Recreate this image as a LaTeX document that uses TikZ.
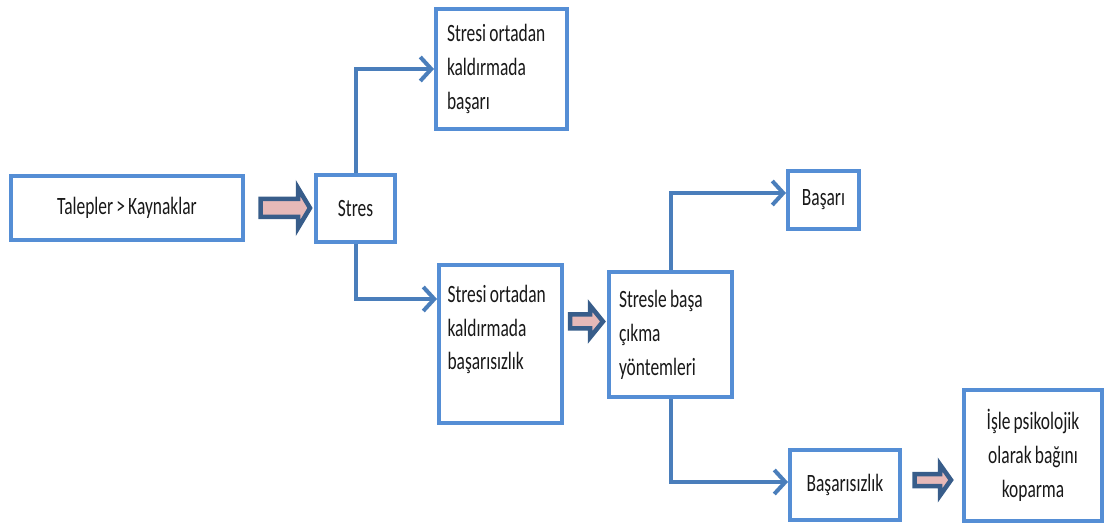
\documentclass[tikz,border=0pt]{standalone}
\usepackage{fontspec}
\setmainfont{Carlito}[FakeStretch=0.70,WordSpace=0.8]
\usetikzlibrary{arrows.meta,calc}
\definecolor{boxblue}{RGB}{85,142,213}
\definecolor{lineblue}{RGB}{74,126,187}
\definecolor{arrdark}{RGB}{56,93,138}
\definecolor{arrpink}{RGB}{230,185,184}
\newcommand\blkarrow[5]{%
  \draw[blk] let \p1=(#1), \p2=(#2) in
    (\x1,{\y1+#4}) -- ({\x2-#3},{\y1+#4}) -- ({\x2-#3},{\y1+#5}) -- (\x2,\y1)
    -- ({\x2-#3},{\y1-#5}) -- ({\x2-#3},{\y1-#4}) -- (\x1,{\y1-#4}) -- cycle;}
\begin{document}
\begin{tikzpicture}[x=1bp,y=-1bp,
  box/.style={draw=boxblue, line width=4bp, fill=white, inner sep=0pt,
    font=\fontsize{25}{34}\selectfont, text=black!90},
  conn/.style={draw=lineblue, line width=4bp, -{Straight Barb[length=11bp,width=24bp]}},
  blk/.style={draw=arrdark, fill=arrpink, line width=4.5bp, line join=miter}]
\useasboundingbox (0,0) rectangle (1109,526);

\node[box, minimum width=232bp, minimum height=64bp] (tal) at (127,208) {Talepler > Kaynaklar};
\node[box, minimum width=79bp, minimum height=67bp] (stres) at (355.5,208.5) {Stres};
\node[box, minimum width=131bp, minimum height=120bp, text width=109bp, align=flush left] (top) at (501.5,69)
  {Stresi ortadan\\kaldırmada\\başarı};
\node[box, minimum width=123bp, minimum height=158bp, text width=106bp, align=flush left, text depth=101bp] (mid) at (500.5,344)
  {Stresi ortadan\\kaldırmada\\başarısızlık};
\node[box, minimum width=123bp, minimum height=125bp, text width=103bp, align=flush left] (cope) at (670.5,334.5)
  {Stresle başa\\çıkma\\yöntemleri};
\node[box, minimum width=71bp, minimum height=58bp] (bas) at (823.5,200) {Başarı};
\node[box, minimum width=110bp, minimum height=70bp] (fail) at (845,485) {Başarısızlık};
\node[box, minimum width=138bp, minimum height=131bp, align=center] (isle) at (1033,455.5)
  {İşle psikolojik\\olarak bağını\\koparma};

\draw[conn] (stres.north) |- (top.west);
\draw[conn] (stres.south) |- ([yshift=-36bp]mid.north west);
\draw[conn] (cope.north) |- ([yshift=7bp]bas.west);
\draw[conn] (cope.south) |- ([yshift=3bp]fail.west);

\blkarrow{$(tal.east)+(15.5,0)$}{$(stres.west)+(-4,0)$}{12bp}{9bp}{20bp}
\blkarrow{$(mid.east)+(6,-22.5)$}{$(cope.west)+(-4,0)$}{13bp}{7bp}{16bp}
\blkarrow{$(fail.east)+(12.5,-5)$}{$(isle.west)+(-11,0)$}{11bp}{6bp}{15.5bp}
\end{tikzpicture}
\end{document}
